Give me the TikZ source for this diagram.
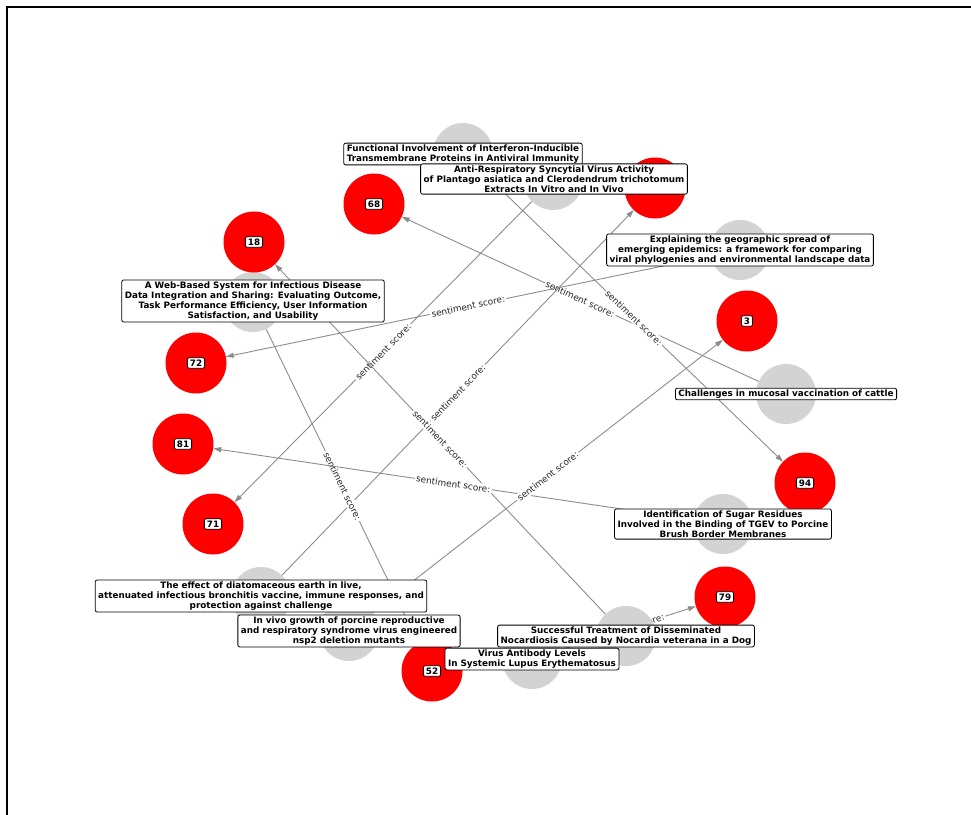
\documentclass[tikz,border=0pt]{standalone}
\usepackage{fontspec}
\setmainfont{DejaVu Sans}
\usetikzlibrary{arrows.meta}

\definecolor{papergray}{HTML}{D3D3D3}
\definecolor{scorered}{HTML}{FF0000}
\definecolor{linkgray}{HTML}{8C8C8C}

\pgfdeclarelayer{links}
\pgfdeclarelayer{captions}
\pgfsetlayers{links,main,captions}

\tikzset{
  paper/.style={circle, fill=papergray, minimum size=60pt, inner sep=0pt, outer sep=0pt},
  score/.style={circle, fill=scorered, minimum size=61pt, inner sep=0pt, outer sep=0pt},
  titlebox/.style={draw=black, fill=white, rounded corners=2pt, line width=0.8pt,
    align=center, inner xsep=3pt, inner ysep=1.5pt,
    font=\bfseries\fontsize{8.8}{10.2}\selectfont},
  numbox/.style={titlebox, inner xsep=2.5pt, inner ysep=2pt},
  link/.style={draw=linkgray, line width=0.9pt, -{Triangle[length=8pt,width=5pt]}},
  linklabel/.style={midway, sloped, fill=white, inner sep=1.5pt, text=black!85,
    font=\fontsize{8.9}{10.2}\selectfont},
  frameline/.style={draw=black, line width=1.5pt}
}

\begin{document}
\begin{tikzpicture}[x=1pt, y=-1pt]
\useasboundingbox (0,0) rectangle (971,814);
\draw[frameline] (7,830) -- (7,7) -- (990,7);

% paper nodes (grey)
\node[paper] (g1)  at (463,153) {};
\node[paper] (g2)  at (553,180) {};
\node[paper] (g3)  at (740,250) {};
\node[paper] (g4)  at (253,302) {};
\node[paper] (g5)  at (786,394) {};
\node[paper] (g6)  at (723,524) {};
\node[paper] (g7)  at (261,597) {};
\node[paper] (g8)  at (349,631) {};
\node[paper] (g9)  at (626,636) {};
\node[paper] (g10) at (532,659) {};

% score nodes (red)
\node[score] (r68) at (374,204) {};
\node[score] (r18) at (254,242) {};
\node[score] (rtop) at (655,188) {};
\node[score] (r3)  at (747,321) {};
\node[score] (r72) at (196,363) {};
\node[score] (r81) at (183,444) {};
\node[score] (r71) at (213,524) {};
\node[score] (r94) at (805,483) {};
\node[score] (r79) at (725,597) {};
\node[score] (r52) at (432,671) {};

% links with their labels
\begin{pgfonlayer}{links}
\draw[link] (g5)  -- node[linklabel] {sentiment score:} (r68);
\draw[link] (g1)  -- node[linklabel] {sentiment score:} (r94);
\draw[link] (g3)  -- node[linklabel] {sentiment score:} (r72);
\draw[link] (g2)  -- node[linklabel] {sentiment score:} (r71);
\draw[link] (g7)  -- node[linklabel] {sentiment score:} (rtop);
\draw[link] (g4)  -- node[linklabel] {sentiment score:} (r52);
\draw[link] (g9)  -- node[linklabel] {sentiment score:} (r18);
\draw[link] (g6)  -- node[linklabel] {sentiment score:} (r81);
\draw[link] (g8)  -- node[linklabel] {sentiment score:} (r3);
\draw[link] (g10) -- node[linklabel] {sentiment score:} (r79);
\end{pgfonlayer}

\begin{pgfonlayer}{captions}
% score values
\node[numbox] (n68) at (r68) {68};
\node[numbox] (n18) at (r18) {18};
\node[numbox] (n3)  at (r3)  {3};
\node[numbox] (n72) at (r72) {72};
\node[numbox] (n81) at (r81) {81};
\node[numbox] (n71) at (r71) {71};
\node[numbox] (n94) at (r94) {94};
\node[numbox] (n79) at (r79) {79};
\node[numbox] (n52) at (r52) {52};
% paper titles
\node[titlebox] (t1) at (463,154) {Functional Involvement of Interferon-Inducible\\Transmembrane Proteins in Antiviral Immunity};
\node[titlebox] (t2) at (554,179) {Anti-Respiratory Syncytial Virus Activity\\of Plantago asiatica and Clerodendrum trichotomum\\Extracts In Vitro and In Vivo};
\node[titlebox] (t3) at (740,250) {Explaining the geographic spread of\\emerging epidemics: a framework for comparing\\viral phylogenies and environmental landscape data};
\node[titlebox] (t4) at (253,301) {A Web-Based System for Infectious Disease\\Data Integration and Sharing: Evaluating Outcome,\\Task Performance Efficiency, User Information\\Satisfaction, and Usability};
\node[titlebox] (t5) at (786,394) {Challenges in mucosal vaccination of cattle};
\node[titlebox] (t6) at (723,524) {Identification of Sugar Residues\\Involved in the Binding of TGEV to Porcine\\Brush Border Membranes};
\node[titlebox] (t7) at (261,596) {The effect of diatomaceous earth in live,\\attenuated infectious bronchitis vaccine, immune responses, and\\protection against challenge};
\node[titlebox] (t8) at (349,631) {In vivo growth of porcine reproductive\\and respiratory syndrome virus engineered\\nsp2 deletion mutants};
\node[titlebox] (t9) at (626,636) {Successful Treatment of Disseminated\\Nocardiosis Caused by Nocardia veterana in a Dog};
\node[titlebox] (t10) at (532,659) {Virus Antibody Levels\\In Systemic Lupus Erythematosus};
\end{pgfonlayer}
\end{tikzpicture}
\end{document}
